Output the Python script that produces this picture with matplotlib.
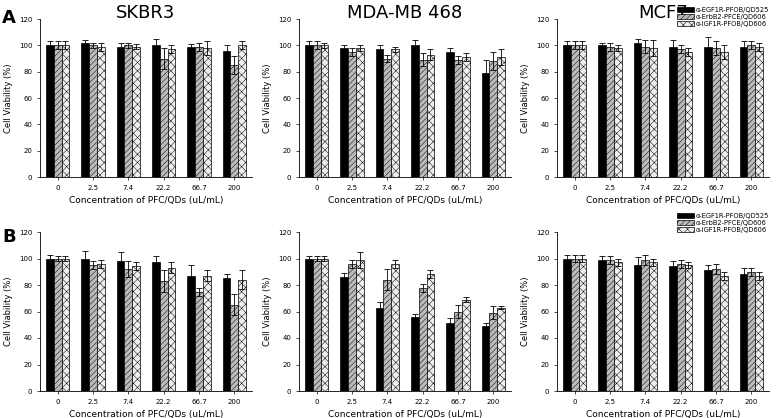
import matplotlib
matplotlib.use("Agg")
import matplotlib.pyplot as plt
import numpy as np

plt.rcParams['hatch.linewidth'] = 0.35
plt.rcParams['hatch.color'] = '#555555'

conc = ["0", "2.5", "7.4", "22.2", "66.7", "200"]
series = ["EGF1R-PFOB/QD525", "ErbB2-PFCE/QD606", "IGF1R-PFOB/QD606"]
titles = ["SKBR3", "MDA-MB 468", "MCF7"]

A_skbr3 = [[100,102,99,100,99,96],[100,100,100,90,99,85],[100,99,99,97,98,100]]
A_skbr3_err = [[3,2,3,5,2,4],[3,2,2,8,3,7],[3,3,2,3,5,3]]
A_mda = [[100,98,97,100,95,79],[100,95,90,89,89,88],[100,98,97,93,91,91]]
A_mda_err = [[3,2,3,4,3,10],[3,3,3,5,3,7],[2,2,2,4,3,6]]
A_mcf7 = [[100,100,102,99,99,99],[100,99,99,97,98,100],[100,98,98,95,95,99]]
A_mcf7_err = [[3,2,3,5,7,4],[3,3,5,3,5,3],[3,2,6,3,5,3]]
B_skbr3 = [[100,100,98,97,87,85],[100,95,92,83,75,65],[100,96,94,93,87,84]]
B_skbr3_err = [[3,6,7,5,8,3],[2,3,6,8,3,8],[2,3,3,4,4,7]]
B_mda = [[100,86,63,56,51,49],[100,96,84,78,60,59],[100,99,96,88,69,63]]
B_mda_err = [[2,3,4,2,4,2],[2,3,8,3,5,5],[2,6,3,3,2,1]]
B_mcf7 = [[100,99,95,94,91,88],[100,99,99,96,92,90],[100,97,97,95,87,87]]
B_mcf7_err = [[3,3,6,4,4,5],[3,3,4,3,4,3],[3,3,3,2,3,3]]

fig = plt.figure(figsize=(7.78, 4.18), dpi=100)
W, H = 778, 418
lefts = [40, 299, 557]
pw = 212
rows = [(19, 177), (232, 391)]
data = [[(A_skbr3, A_skbr3_err), (A_mda, A_mda_err), (A_mcf7, A_mcf7_err)],
        [(B_skbr3, B_skbr3_err), (B_mda, B_mda_err), (B_mcf7, B_mcf7_err)]]
faces = ["black", "#bbbbbb", "#eeeeee"]
hatches = [None, "//////", "xxxx"]
x = np.arange(len(conc))
w = 0.22
for r, (top, bot) in enumerate(rows):
    for c in range(3):
        ax = fig.add_axes([lefts[c]/W, 1 - bot/H, pw/W, (bot-top)/H])
        vals, errs = data[r][c]
        handles = []
        for k in range(3):
            b = ax.bar(x + (k-1)*w, vals[k], w, yerr=errs[k], color=faces[k], hatch=hatches[k],
                   edgecolor="black", linewidth=0.5, capsize=2,
                   error_kw=dict(elinewidth=0.6, capthick=0.6),
                   label="\u03b1-" + series[k])
            handles.append(b)
        ax.set_ylim(0, 120)
        ax.set_xlim(-0.5, 5.5)
        ax.set_yticks(range(0, 121, 20))
        ax.set_xticks(x)
        ax.set_xticklabels(conc)
        ax.tick_params(labelsize=5, length=2, width=0.5)
        for s in ["top", "right"]:
            ax.spines[s].set_visible(False)
        for s in ["left", "bottom"]:
            ax.spines[s].set_linewidth(0.6)
        ax.set_ylabel("Cell Viability (%)", fontsize=6)
        ax.set_xlabel("Concentration of PFC/QDs (uL/mL)", fontsize=6.5)
        if r == 0:
            fig.text((lefts[c] + pw/2)/W, 1 - 4/H, titles[c], ha="center", va="top", fontsize=13)
        if c == 2:
            ly = 2 if r == 0 else 208
            fig.legend(handles=handles, loc="upper left", bbox_to_anchor=(672/W, 1 - ly/H),
                       fontsize=4.8, frameon=False, handlelength=2.6, handleheight=0.9,
                       labelspacing=0.15, borderpad=0.2, handletextpad=0.3)
fig.text(2/W, 1 - 18/H, "A", fontsize=13, fontweight="bold", va="center")
fig.text(2/W, 1 - 237/H, "B", fontsize=13, fontweight="bold", va="center")
fig.savefig("out.png", dpi=100)
